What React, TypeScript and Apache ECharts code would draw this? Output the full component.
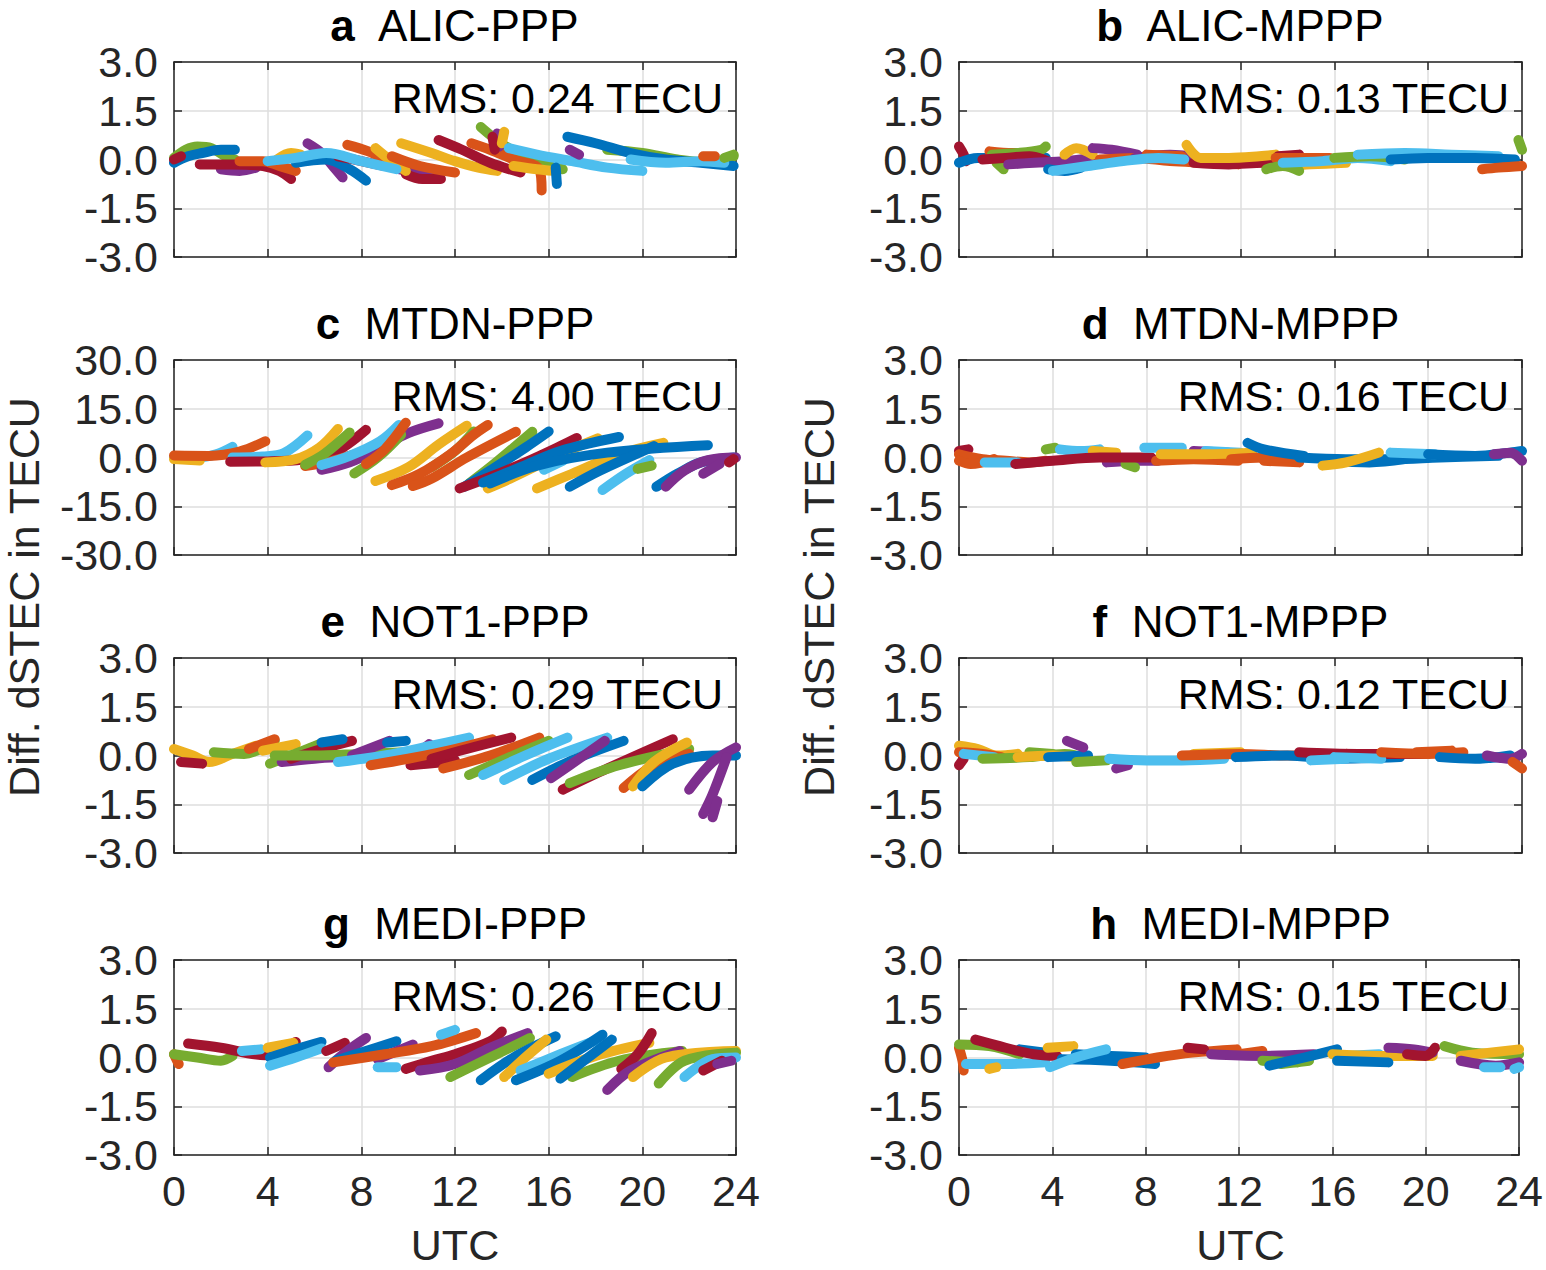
import React, { useEffect, useRef } from 'react';
import * as echarts from 'echarts';

// ---------- data ----------
const hourTicks = [0, 4, 8, 12, 16, 20, 24];
const palette = ['#0072BD', '#D95319', '#EDB120', '#7E2F8E', '#77AC30', '#4DBEEE', '#A2142F'];
const panelLetters = ['a', 'b', 'c', 'd', 'e', 'f', 'g', 'h'];
const panelNames = ['ALIC-PPP', 'ALIC-MPPP', 'MTDN-PPP', 'MTDN-MPPP', 'NOT1-PPP', 'NOT1-MPPP', 'MEDI-PPP', 'MEDI-MPPP'];
const rmsValues = ['0.24', '0.13', '4.00', '0.16', '0.29', '0.12', '0.26', '0.15'];
const yLimits = [3, 3, 30, 3, 3, 3, 3, 3];

type Arc = [number, number[][]];
// colour index: 0 blue, 1 orange, 2 yellow, 3 purple, 4 green, 5 cyan, 6 dark red
const arcsA: Arc[] = [
  [4, [[0, 0.05], [0.5, 0.3], [1, 0.4], [1.6, 0.35], [2.2, 0.1], [2.6, 0.0]]],
  [0, [[0, -0.1], [0.6, 0.1], [1.2, 0.2], [2, 0.3], [2.6, 0.3]]],
  [6, [[0, 0.0], [0.3, 0.1]]],
  [3, [[2, -0.3], [2.8, -0.35], [3.5, -0.25]]],
  [6, [[1.1, -0.15], [2.5, -0.15], [3.8, -0.2], [4.5, -0.35], [5.0, -0.6]]],
  [1, [[2.8, -0.05], [3.8, -0.05], [4.5, -0.2], [5.2, -0.35]]],
  [2, [[4.4, 0.0], [5, 0.2], [5.4, 0.15]]],
  [3, [[5.7, 0.5], [6.3, 0.2], [6.9, -0.3], [7.2, -0.55]]],
  [0, [[5.2, -0.1], [6.5, 0], [7.5, -0.3], [8.2, -0.65]]],
  [6, [[7.0, 0.1], [8, -0.05], [9, -0.2]]],
  [1, [[7.4, 0.45], [8.3, 0.25], [9.2, -0.05], [10.2, -0.3]]],
  [3, [[9.6, -0.3], [10.5, -0.4], [11, -0.4]]],
  [6, [[9.9, -0.45], [10.6, -0.6], [11.4, -0.6]]],
  [2, [[8.6, 0.35], [9.2, 0.0], [9.9, -0.35]]],
  [1, [[9.3, 0.1], [10.5, -0.2], [12, -0.4]]],
  [2, [[9.7, 0.5], [11, 0.2], [12, -0.05], [13, -0.25], [13.8, -0.35]]],
  [6, [[11.3, 0.6], [12.3, 0.3], [13.5, -0.1], [14.8, -0.4]]],
  [5, [[4.0, -0.05], [5.2, 0.05], [6.5, 0.2], [8, -0.05], [9.5, -0.3]]],
  [4, [[13.1, 1.0], [13.6, 0.7], [14.3, 0.35], [15.5, 0.0], [16.6, -0.3]]],
  [1, [[12.7, 0.5], [13.5, 0.3], [14.5, 0.0], [15.6, -0.3], [15.7, -0.95]]],
  [3, [[13.8, 0.8], [13.9, 0.4]]],
  [6, [[13.6, 0.7], [13.7, 0.3]]],
  [2, [[14.1, 0.85], [14.0, 0.5]]],
  [2, [[14.5, -0.2], [15.5, -0.3], [16.2, -0.35]]],
  [5, [[14.3, 0.35], [15.5, 0.15], [17, -0.05], [18.5, -0.25], [20, -0.35]]],
  [4, [[18.5, 0.3], [20, 0.2], [21.5, 0], [23, -0.1], [23.9, 0.1]]],
  [0, [[16.8, 0.7], [18, 0.5], [19.5, 0.2], [21, 0.0], [22.5, -0.1], [23.9, -0.2]]],
  [0, [[16.3, -0.25], [16.35, -0.75]]],
  [3, [[16.9, 0.3], [17.3, 0.15]]],
  [5, [[19.5, 0], [21, -0.1], [22.5, -0.05], [23.5, -0.1]]],
  [1, [[22.6, 0.1], [23.1, 0.1]]],
  [4, [[23.5, 0.05], [23.9, 0.15]]],
];

const arcsB: Arc[] = [
  [6, [[0, 0.4], [0.2, 0.15], [0.3, -0.05]]],
  [0, [[0, -0.1], [0.8, 0.05], [2, 0.05], [3, 0.0], [3.7, 0.05]]],
  [1, [[1.3, 0.25], [2.3, 0.2], [3.4, 0.2]]],
  [4, [[1.4, 0.15], [2.5, 0.2], [3.5, 0.3], [3.7, 0.4]]],
  [4, [[1.6, -0.1], [1.9, -0.3]]],
  [6, [[1, 0.0], [2, 0.05], [3, 0.1], [3.6, 0.0], [4.2, -0.2]]],
  [3, [[2.1, -0.15], [3.2, -0.1], [4.5, -0.05], [5.7, 0.05]]],
  [0, [[3.8, -0.3], [4.5, -0.35], [5.2, -0.25]]],
  [2, [[4.5, 0.15], [5, 0.35], [5.7, 0.15]]],
  [3, [[5.7, 0.35], [6.5, 0.3], [7.6, 0.15]]],
  [1, [[6, 0], [7.5, 0.05], [9, -0.05], [10.5, -0.1], [11.9, -0.15]]],
  [3, [[7.5, 0.05], [9, 0.15], [10, 0.1]]],
  [1, [[8, 0.15], [9.5, 0.1]]],
  [5, [[4, -0.35], [5.5, -0.2], [7, -0.05], [8.5, 0.05], [9.6, 0.0]]],
  [6, [[10, -0.1], [11.5, -0.15], [13, -0.1], [14.5, -0.2]]],
  [2, [[9.7, 0.45], [10.3, 0.05], [11.5, 0.05], [12.8, 0.1], [13.5, 0.15]]],
  [6, [[13.6, 0.1], [14.5, 0.15]]],
  [1, [[13.5, 0.05], [14.5, 0.05], [15.8, 0.05]]],
  [2, [[14, -0.2], [15, -0.15], [16.5, -0.1]]],
  [4, [[13.1, -0.3], [13.8, -0.2], [14.5, -0.35]]],
  [5, [[13.8, -0.1], [15.5, -0.05], [17, 0.05], [18.4, -0.05]]],
  [4, [[16, 0.05], [17.5, 0.1], [19, 0.0]]],
  [5, [[17, 0.15], [19, 0.2], [21, 0.15], [23, 0.1]]],
  [0, [[18.4, 0], [20, 0.05], [22, 0.05], [23.7, 0.0]]],
  [1, [[22.3, -0.3], [23, -0.25], [24, -0.2]]],
  [4, [[23.85, 0.6], [24, 0.3]]],
];

const arcsC: Arc[] = [
  [5, [[0, 0], [1, 0], [1.8, 1], [2.5, 3.3]]],
  [2, [[0, -0.5], [1.1, -0.9]]],
  [1, [[0, 0.6], [1.5, 0.5], [2.8, 1.8], [3.9, 5]]],
  [5, [[2.5, 0], [3.8, 0.3], [4.7, 1.4], [5.7, 6.8]]],
  [6, [[2.4, -1.3], [4, -1.2], [5.5, -0.6], [6.8, 1.4], [7.5, 4.5], [8.2, 8.5]]],
  [2, [[3.9, -1.5], [5.2, -0.5], [6.2, 3], [7, 8.8]]],
  [1, [[5.6, -2.6], [6.5, -1.5], [7.5, 0.5], [8.2, 2.1]]],
  [4, [[5.6, -2.2], [6.4, 1], [7.5, 7.7]]],
  [3, [[6.3, -3.8], [7.5, -1.5], [8.8, 3], [10, 7.5], [11.3, 10.5]]],
  [5, [[6.3, -2.3], [7.5, 0.5], [8.8, 5], [9.6, 10]]],
  [4, [[7.7, -4.9], [8.7, 0], [9.7, 7]]],
  [1, [[8.2, -2], [9, 2.5], [9.9, 10.7]]],
  [2, [[8.6, -7.2], [10, -3], [11.3, 4], [12.5, 9.8]]],
  [4, [[11, -3], [12, 2], [12.8, 8]]],
  [1, [[9.3, -8.5], [10.5, -5], [11.8, 1], [12.8, 7], [13.4, 10]]],
  [1, [[10.2, -8.8], [11, -6.5], [12.5, 0], [14.6, 7.9]]],
  [4, [[12.6, -8], [13.5, -3], [14.5, 3], [15.3, 7.9]]],
  [0, [[12.4, -9], [13.5, -4], [15, 3], [16, 8]]],
  [6, [[12.2, -9.5], [13.5, -6], [15, -1.5], [16.5, 3.5], [17.2, 6]]],
  [2, [[13.4, -9.5], [14.5, -6], [16.5, 1], [18.1, 5.9]]],
  [0, [[13.2, -7.7], [14.8, -3], [16.5, 2], [19, 6.3]]],
  [5, [[15.8, -3.8], [16.6, -1]]],
  [2, [[15.5, -9.5], [17, -5], [19, 1], [20.9, 4.5]]],
  [0, [[13.5, -8], [15.5, -2.5], [18.5, 1.5], [22.8, 3.8]]],
  [0, [[16.9, -9], [18.2, -4], [20.5, 3.5]]],
  [5, [[18.3, -10], [19.3, -5], [20.3, -0.8]]],
  [4, [[19.8, -3.5], [20.4, -2.5]]],
  [0, [[20.6, -9], [21.5, -5], [22.5, -1.5], [23.9, 0]]],
  [3, [[21, -9], [21.8, -4], [22.8, -0.8], [24, 0]]],
  [3, [[22.6, -5], [23.3, -2]]],
  [6, [[23.7, -1.5], [23.9, -0.5]]],
];

const arcsD: Arc[] = [
  [6, [[0, 0.2], [0.4, 0.25]]],
  [1, [[0, 0.1], [1, -0.05], [2, -0.1], [3, -0.15], [3.7, -0.1]]],
  [1, [[0, -0.1], [0.5, -0.2], [1.5, -0.05]]],
  [5, [[1.1, -0.15], [2.5, -0.15]]],
  [4, [[3.7, 0.25], [4.1, 0.3]]],
  [5, [[4.3, 0.25], [5.2, 0.2], [6, 0.25]]],
  [2, [[5.7, 0.2], [6.7, 0.15]]],
  [3, [[6.3, -0.15], [7.5, -0.1], [8.5, -0.1]]],
  [4, [[7.1, -0.2], [7.5, -0.3]]],
  [6, [[2.4, -0.2], [4, -0.1], [6, 0.0], [8.2, 0.0]]],
  [5, [[7.9, 0.3], [9.5, 0.3]]],
  [1, [[8.4, -0.1], [10, -0.05], [11.9, -0.1]]],
  [3, [[10, 0.2], [11.5, 0.15]]],
  [5, [[10.5, 0.2], [12, 0.15]]],
  [2, [[8.6, 0.1], [10.5, 0.1], [12.5, 0.15]]],
  [1, [[13, -0.1], [14.5, -0.15]]],
  [1, [[11.6, -0.05], [13, 0.0], [14.5, 0.0]]],
  [0, [[12.3, 0.45], [13, 0.25], [14.7, 0.05]]],
  [0, [[15.8, -0.1], [17.5, -0.15], [19, -0.05]]],
  [0, [[14.5, 0.0], [16.5, -0.05], [18.5, -0.05], [20.5, 0.0], [23, 0.05]]],
  [2, [[15.5, -0.25], [16.5, -0.15], [17.9, 0.15]]],
  [5, [[18.4, 0.15], [20.3, 0.1]]],
  [0, [[20, 0.1], [22, 0.05], [23.5, 0.15], [24, 0.2]]],
  [3, [[22.8, 0.1], [23.5, 0.15], [24, -0.1]]],
];

const arcsE: Arc[] = [
  [2, [[0, 0.2], [0.8, 0], [1.5, -0.2], [2.5, 0.05], [3.5, 0.3]]],
  [6, [[0.3, -0.2], [1.2, -0.25]]],
  [4, [[1.7, 0.1], [3, 0.05], [4.3, 0.45]]],
  [1, [[3.2, 0.2], [4.3, 0.5]]],
  [2, [[3.8, 0.15], [5.2, 0.35]]],
  [4, [[4.1, -0.25], [5, 0], [6.4, 0.4]]],
  [3, [[4.6, -0.2], [6, -0.1], [7, -0.05]]],
  [6, [[5, -0.1], [6.3, 0.2], [7.6, 0.45]]],
  [0, [[6.3, 0.4], [7.2, 0.5]]],
  [4, [[4.3, 0.0], [6, 0.0], [8, 0.05], [9.9, 0.1]]],
  [3, [[7.6, 0.0], [9.2, 0.45]]],
  [0, [[9.1, 0.4], [9.9, 0.45]]],
  [3, [[10.1, -0.1], [10.9, 0.35]]],
  [6, [[10.1, -0.3], [11.5, -0.2], [12, -0.15]]],
  [5, [[7, -0.2], [9, 0], [11, 0.3], [12.6, 0.55]]],
  [1, [[8.4, -0.3], [10, -0.1], [12, 0.2], [13.6, 0.5]]],
  [6, [[11, -0.1], [12.5, 0.2], [14.4, 0.55]]],
  [1, [[11.5, -0.4], [13.5, 0], [15.6, 0.55]]],
  [4, [[12.6, -0.6], [14.5, 0], [16, 0.45]]],
  [5, [[13.2, -0.6], [15, 0], [16.8, 0.55]]],
  [5, [[14.1, -0.75], [16, -0.1], [18.5, 0.55]]],
  [0, [[15.3, -0.75], [17, -0.15], [19.2, 0.45]]],
  [3, [[16.1, -0.7], [17.3, -0.1], [18.4, 0.45]]],
  [6, [[16.6, -1.05], [18.5, -0.4], [21.3, 0.5]]],
  [4, [[16.9, -0.85], [19, -0.3], [22, 0.2]]],
  [1, [[19.2, -1], [20.5, -0.3], [22, 0.05]]],
  [2, [[19.6, -0.95], [20.5, -0.2], [21.9, 0.4]]],
  [0, [[20, -0.95], [21.3, -0.25], [23, 0], [24, 0.0]]],
  [3, [[22, -1.05], [23, -0.2], [24, 0.25]]],
  [3, [[22.6, -1.8], [23, -1.2], [23.6, -0.05]]],
  [3, [[23.0, -1.9], [23.2, -1.4]]],
];

const arcsF: Arc[] = [
  [6, [[0, -0.3], [0.2, -0.1]]],
  [2, [[0, 0.3], [0.8, 0.2], [1.6, 0.0], [2.5, 0.05]]],
  [1, [[0, 0.1], [1, 0.05], [1.8, -0.05]]],
  [5, [[0.2, 0.05], [1.5, -0.05]]],
  [4, [[1, -0.1], [3, -0.05], [4.5, 0.05], [5.5, -0.1]]],
  [4, [[3, 0.1], [4, 0.05]]],
  [2, [[2.5, -0.05], [4, 0.0], [5, -0.05]]],
  [0, [[3.8, -0.05], [5.5, 0.0]]],
  [3, [[4.6, 0.45], [5.3, 0.25]]],
  [4, [[5, -0.2], [6.3, -0.15]]],
  [3, [[6.7, -0.4], [7.2, -0.3]]],
  [5, [[6.4, -0.1], [8, -0.15], [9.5, -0.15], [11.3, -0.1]]],
  [2, [[10, 0.05], [12, 0.1]]],
  [1, [[9.5, 0.0], [12, 0.05], [14, 0.0], [16.5, 0.05]]],
  [0, [[11.8, -0.05], [14, 0.0], [16, -0.1], [18.8, -0.05]]],
  [6, [[14.5, 0.1], [17, 0.05], [20, 0.05]]],
  [5, [[15, -0.15], [16.5, -0.1]]],
  [5, [[16, -0.05], [18, -0.1]]],
  [1, [[18, 0.1], [20, 0.05], [21.5, 0.1]]],
  [1, [[19.5, 0.1], [21, 0.15]]],
  [0, [[20.5, -0.05], [22, -0.1], [23.5, 0.0]]],
  [3, [[22.5, 0.0], [23.5, -0.1], [24, 0.05]]],
  [1, [[23.6, -0.2], [24, -0.4]]],
];

const arcsG: Arc[] = [
  [1, [[0, 0.1], [0.2, -0.2]]],
  [4, [[0, 0.1], [1, 0.0], [2, -0.1], [2.5, 0.05]]],
  [6, [[0.6, 0.43], [2, 0.3], [3.9, 0.07], [5.2, 0.48]]],
  [5, [[2.9, 0.2], [3.7, 0.25]]],
  [2, [[4.0, 0.3], [5.1, 0.45]]],
  [0, [[4.1, 0.0], [5.2, 0.25], [6.3, 0.48]]],
  [5, [[4.1, -0.25], [5.2, 0.0], [6.3, 0.28]]],
  [6, [[6.5, 0.2], [7.3, 0.45]]],
  [3, [[6.6, -0.3], [7.4, 0.2], [8.2, 0.6]]],
  [0, [[6.9, -0.1], [8.2, 0.2], [9.5, 0.5]]],
  [3, [[8.7, -0.05], [10.2, 0.4]]],
  [5, [[8.7, -0.3], [9.5, -0.3]]],
  [6, [[9.9, -0.35], [11, -0.1], [12, 0.1], [13.5, 0.5], [14, 0.8]]],
  [3, [[10.5, -0.4], [12, -0.2], [13.5, 0.3], [15.1, 0.75]]],
  [1, [[6.8, -0.15], [9, 0.1], [11, 0.35], [12.9, 0.75]]],
  [5, [[11.4, 0.7], [12, 0.85]]],
  [4, [[11.8, -0.6], [13.5, 0], [15.2, 0.6]]],
  [0, [[13.1, -0.7], [14.5, 0], [16.3, 0.65]]],
  [2, [[14.1, -0.6], [15, 0], [15.9, 0.55]]],
  [5, [[14.8, -0.4], [16.5, 0.1], [18.1, 0.55]]],
  [0, [[14.6, -0.7], [16.5, -0.1], [18.3, 0.7]]],
  [2, [[16, -0.5], [18, 0.05], [20.3, 0.45]]],
  [4, [[17, -0.6], [19, -0.1], [21.7, 0.2]]],
  [0, [[16.5, -0.65], [17.5, -0.1], [18.7, 0.55]]],
  [6, [[19.1, -0.35], [19.8, 0.1], [20.4, 0.75]]],
  [3, [[18.5, -1.0], [19.5, -0.4], [21.6, 0.2]]],
  [2, [[19.6, -0.6], [21, 0], [24, 0.2]]],
  [4, [[20.7, -0.8], [21.8, -0.1], [24, 0.15]]],
  [5, [[21.8, -0.6], [23, -0.05], [24, 0.0]]],
  [6, [[22.6, -0.4], [23.4, -0.1]]],
  [3, [[23.2, -0.2], [23.8, -0.1]]],
];

const arcsH: Arc[] = [
  [1, [[0, 0.3], [0.15, -0.1], [0.2, -0.4]]],
  [4, [[0, 0.4], [1.3, 0.35], [2.6, 0.1]]],
  [5, [[0.3, -0.2], [2, -0.2], [3.7, -0.15]]],
  [0, [[2.6, 0.25], [3.7, 0.15]]],
  [2, [[1.3, -0.35], [1.6, -0.3]]],
  [6, [[0.7, 0.55], [2, 0.3], [3.2, 0.1], [4.2, 0.05]]],
  [2, [[3.8, 0.3], [4.9, 0.35]]],
  [0, [[4.4, -0.05], [6.5, -0.1], [8.4, -0.2]]],
  [0, [[5, 0.1], [6.5, 0.05], [8, 0.0]]],
  [5, [[3.9, -0.3], [5, 0.0], [6.3, 0.25]]],
  [1, [[7, -0.2], [8.5, 0.0], [10, 0.15], [11.9, 0.25]]],
  [6, [[9.8, 0.3], [10.5, 0.25]]],
  [1, [[12, 0.1], [13, 0.2]]],
  [3, [[10.8, 0.1], [13, 0.05], [15.2, 0.1]]],
  [4, [[13, -0.1], [14.5, -0.15]]],
  [4, [[13.8, -0.2], [15, -0.1]]],
  [0, [[13.3, -0.25], [14.8, 0], [16.2, 0.25]]],
  [5, [[16.5, 0.05], [18, 0.1]]],
  [2, [[16, 0.1], [18, 0.05], [20.3, 0.05]]],
  [0, [[16.2, -0.1], [18.4, -0.15]]],
  [3, [[18.4, 0.3], [19.5, 0.25], [20.3, 0.15]]],
  [6, [[19.2, 0.1], [20, 0.05], [20.4, 0.3]]],
  [4, [[20.8, 0.35], [22, 0.15], [24, 0.1]]],
  [2, [[21.5, 0.05], [24, 0.25]]],
  [3, [[21.5, -0.1], [23, -0.25], [24, -0.15]]],
  [5, [[22.5, -0.3], [23.2, -0.3]]],
  [5, [[23.8, -0.35], [24, -0.3]]],
];

const allArcs = [arcsA, arcsB, arcsC, arcsD, arcsE, arcsF, arcsG, arcsH];

// ---------- layout ----------
const FONT = "'Liberation Sans', Arial, Helvetica, sans-serif";
const TXT = '#262626';
const colLeft = [174, 959];
const colWidth = [562, 563];
const rowTop = [62, 360, 658, 960];
const plotH = 195;

export default function App() {
  const ref = useRef<HTMLDivElement>(null);
  useEffect(() => {
    if (!ref.current) return;
    const chart = echarts.init(ref.current, undefined, { renderer: 'svg' });
    const grids: any[] = [];
    const xAxes: any[] = [];
    const yAxes: any[] = [];
    const series: any[] = [];
    const graphics: any[] = [];
    const lineCol = { color: TXT, width: 1.5 };
    for (let p = 0; p < 8; p++) {
      const col = p % 2;
      const row = Math.floor(p / 2);
      grids.push({ left: colLeft[col], top: rowTop[row], width: colWidth[col], height: plotH, containLabel: false });
    }
    for (let p = 0; p < 8; p++) {
      const row = Math.floor(p / 2);
      const lim = yLimits[p];
      xAxes.push({
        type: 'value', gridIndex: p, min: hourTicks[0], max: hourTicks[hourTicks.length - 1], interval: 4,
        axisLine: { show: true, onZero: false, lineStyle: lineCol },
        axisTick: { show: true, inside: true, length: 8, lineStyle: lineCol },
        axisLabel: { show: row === 3, fontSize: 43, fontFamily: FONT, color: TXT, margin: 14 },
        splitLine: { show: true, lineStyle: { color: '#DEDEDE', width: 1.5 } },
      });
      yAxes.push({
        type: 'value', gridIndex: p, min: -lim, max: lim, interval: lim / 2,
        axisLine: { show: true, onZero: false, lineStyle: lineCol },
        axisTick: { show: true, inside: true, length: 8, lineStyle: lineCol },
        axisLabel: { show: true, fontSize: 43, fontFamily: FONT, color: TXT, margin: 16, formatter: (v: number) => v.toFixed(1) },
        splitLine: { show: true, lineStyle: { color: '#DEDEDE', width: 1.5 } },
      });
    }
    for (let p = 0; p < 8; p++) {
      const lim = yLimits[p];
      xAxes.push({
        type: 'value', gridIndex: p, position: 'top', min: 0, max: 24, interval: 4,
        axisLine: { show: true, onZero: false, lineStyle: lineCol },
        axisTick: { show: true, inside: true, length: 8, lineStyle: lineCol },
        axisLabel: { show: false }, splitLine: { show: false },
      });
      yAxes.push({
        type: 'value', gridIndex: p, position: 'right', min: -lim, max: lim, interval: lim / 2,
        axisLine: { show: true, onZero: false, lineStyle: lineCol },
        axisTick: { show: true, inside: true, length: 8, lineStyle: lineCol },
        axisLabel: { show: false }, splitLine: { show: false },
      });
    }
    for (let p = 0; p < 8; p++) {
      allArcs[p].forEach((arc) => {
        const c = palette[arc[0]];
        series.push({
          type: 'line', xAxisIndex: p, yAxisIndex: p, data: arc[1],
          showSymbol: false, symbol: 'none', smooth: 0.35, clip: false, silent: true,
          lineStyle: { width: 10, color: c, cap: 'round', join: 'round' },
          itemStyle: { color: c },
        });
      });
    }
    for (let p = 0; p < 8; p++) {
      const col = p % 2;
      const row = Math.floor(p / 2);
      const cx = colLeft[col] + colWidth[col] / 2;
      graphics.push({
        type: 'text', x: cx, y: rowTop[row] - 37, z: 10,
        style: {
          text: '{b|' + panelLetters[p] + '}  ' + panelNames[p],
          rich: { b: { fontWeight: 'bold', fontSize: 44, fontFamily: FONT, fill: '#000', lineHeight: 44 } },
          fontSize: 44, lineHeight: 44, fontFamily: FONT, fill: '#000', align: 'center', verticalAlign: 'middle',
        },
      });
      graphics.push({
        type: 'text', x: colLeft[col] + colWidth[col] - 13, y: rowTop[row] + 36, z: 10,
        style: {
          text: 'RMS: ' + rmsValues[p] + ' TECU', fontSize: 43, fontFamily: FONT, fill: '#000',
          align: 'right', verticalAlign: 'middle',
        },
      });
    }
    [24, 819].forEach((x) => {
      graphics.push({
        type: 'text', x, y: 597, rotation: Math.PI / 2, z: 10,
        style: { text: 'Diff. dSTEC in TECU', fontSize: 43, lineHeight: 40, fontFamily: FONT, fill: TXT, align: 'center', verticalAlign: 'middle' },
      });
    });
    [0, 1].forEach((col) => {
      graphics.push({
        type: 'text', x: colLeft[col] + colWidth[col] / 2, y: 1245, z: 10,
        style: { text: 'UTC', fontSize: 43, lineHeight: 40, fontFamily: FONT, fill: TXT, align: 'center', verticalAlign: 'middle' },
      });
    });
    chart.setOption({
      animation: false,
      backgroundColor: '#ffffff',
      grid: grids,
      xAxis: xAxes,
      yAxis: yAxes,
      series,
      graphic: graphics,
    });
    return () => chart.dispose();
  }, []);
  return <div ref={ref} style={{ position: 'absolute', left: 0, top: 0, width: 1546, height: 1270 }} />;
}
